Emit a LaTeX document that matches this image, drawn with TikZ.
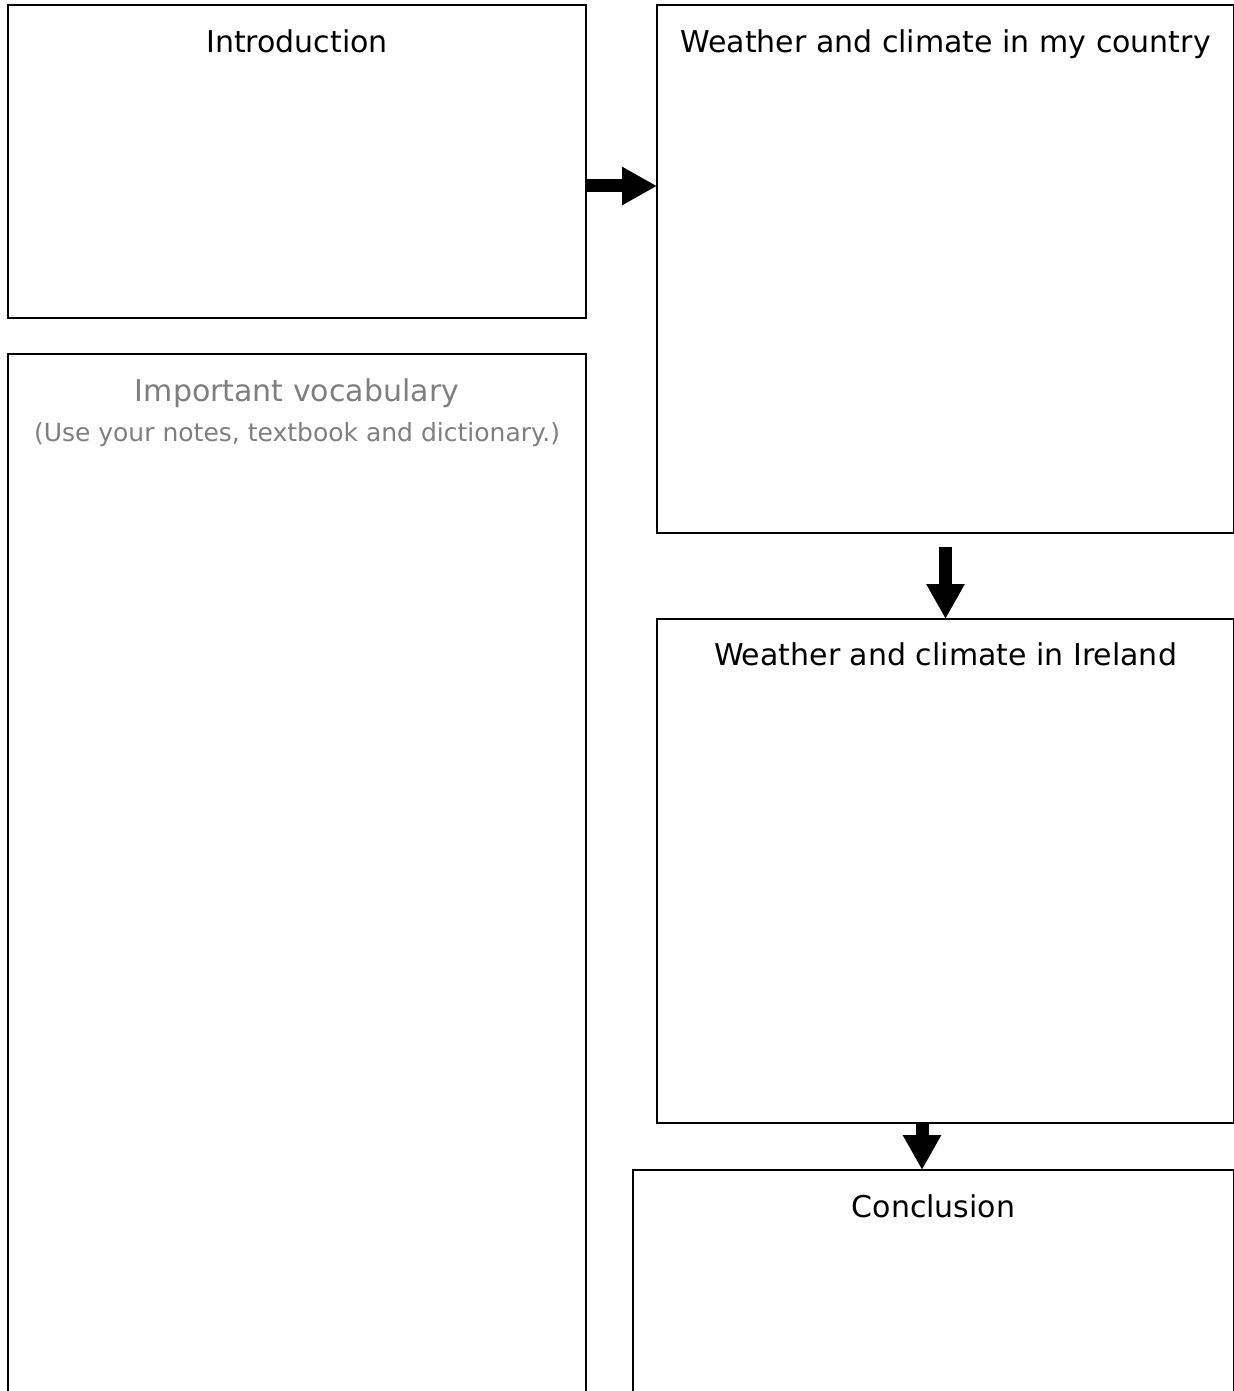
\documentclass[tikz,border=0pt]{standalone}
\usepackage{fontspec}
\setmainfont{DejaVu Sans}
\usepackage{xcolor}
\usepackage{tikz}
\usetikzlibrary{positioning,arrows.meta}
\definecolor{BoxLine}{HTML}{000000}
\definecolor{HintGray}{HTML}{7F7F7F}
\tikzset{
  panel/.style={draw=BoxLine,line width=1pt,fill=white,inner sep=0pt,outer sep=0pt},
  softpanel/.style={panel,line width=0.7pt},
  heading/.style={inner sep=0pt,font=\fontsize{15}{18}\selectfont,text=black},
  softheading/.style={heading,text=HintGray},
  hint/.style={inner sep=0pt,font=\fontsize{12.5}{15}\selectfont,text=HintGray},
  blockarrow/.style={line width=6.5pt,draw=black,
    -{Triangle[width=18pt,length=17.5pt]}},
}

\begin{document}
\begin{tikzpicture}[x=0.5pt,y=-0.5pt]
  \useasboundingbox (0,0) rectangle (1233,1391);
  \node[panel,minimum width=289pt,minimum height=156.5pt] (intro) at (297,161.5) {};
  \node[softpanel,minimum width=289pt,minimum height=523pt] (vocab) at (297,877) {};
  \node[panel,minimum width=288.5pt,minimum height=264pt] (country) at (945.5,269) {};
  \node[panel,minimum width=288.5pt,minimum height=252pt] (ireland) at (945.5,871) {};
  \node[panel,minimum width=300.5pt,minimum height=115pt] (concl) at (933.5,1285) {};
  \node[heading,below=12pt of intro.north] (introT) {Introduction};
  \node[heading,below=12pt of country.north] (countryT) {Weather and climate in my country};
  \node[heading,below=11.5pt of ireland.north] (irelandT) {Weather and climate in Ireland};
  \node[heading,below=12pt of concl.north] (conclT) {Conclusion};
  \node[softheading,below=12pt of vocab.north] (vocabT) {Important vocabulary};
  \node[hint,below=7pt of vocabT] (vocabH) {(Use your notes, textbook and dictionary.)};
  \draw[blockarrow] ([yshift=-12.25pt]intro.east) -- ([yshift=-12.25pt]intro.east -| country.west);
  \draw[blockarrow] ([yshift=-7pt]country.south) -- (ireland.north);
  \draw[blockarrow] ([xshift=-11.75pt]ireland.south) -- ([xshift=-11.75pt]ireland.south |- concl.north);
\end{tikzpicture}
\end{document}
